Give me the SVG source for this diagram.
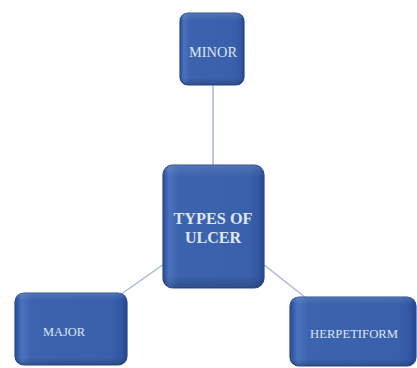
<svg xmlns="http://www.w3.org/2000/svg" width="417" height="368" viewBox="0 0 417 368">
<defs>
<linearGradient id="g" x1="0" y1="0" x2="1" y2="0">
<stop offset="0" stop-color="#2a4c96"/>
<stop offset="0.06" stop-color="#4a73bf"/>
<stop offset="0.15" stop-color="#3c63ae"/>
<stop offset="0.85" stop-color="#3a60ab"/>
<stop offset="0.95" stop-color="#3357a3"/>
<stop offset="1" stop-color="#24468e"/>
</linearGradient>
<linearGradient id="gv" x1="0" y1="0" x2="0" y2="1">
<stop offset="0" stop-color="#ffffff" stop-opacity="0.12"/>
<stop offset="0.1" stop-color="#ffffff" stop-opacity="0"/>
<stop offset="0.9" stop-color="#000000" stop-opacity="0"/>
<stop offset="1" stop-color="#000000" stop-opacity="0.2"/>
</linearGradient>
</defs>
<style>
.box{fill:url(#g);stroke:#2a4a8e;stroke-width:1.2}
.sh{fill:url(#gv)}
.t{font-family:"Liberation Serif","Times New Roman",serif;fill:#dfe6f3;text-anchor:middle}
.b{font-weight:bold}
.c{stroke:#aab8d6;stroke-width:1.5;fill:none}
</style>
<g id="connectors">
<line class="c" x1="213" y1="85" x2="213" y2="166"/>
<line class="c" x1="164" y1="264" x2="120" y2="295"/>
<line class="c" x1="263" y1="264" x2="306" y2="298"/>
</g>
<g id="minor">
<rect class="box" x="180" y="13" width="64" height="72" rx="8"/>
<rect class="sh" x="180" y="13" width="64" height="72" rx="8"/>
<text class="t" x="213" y="57" font-size="15" textLength="48" lengthAdjust="spacingAndGlyphs">MINOR</text>
</g>
<g id="center">
<rect class="box" x="163" y="165" width="101" height="123" rx="10"/>
<rect class="sh" x="163" y="165" width="101" height="123" rx="10"/>
<text class="t b" x="213" y="224" font-size="17" textLength="79" lengthAdjust="spacingAndGlyphs">TYPES OF</text>
<text class="t b" x="213" y="243" font-size="17" textLength="56" lengthAdjust="spacingAndGlyphs">ULCER</text>
</g>
<g id="major">
<rect class="box" x="15" y="293" width="112" height="72" rx="9"/>
<rect class="sh" x="15" y="293" width="112" height="72" rx="9"/>
<text class="t" x="64" y="336" font-size="12" textLength="42" lengthAdjust="spacingAndGlyphs">MAJOR</text>
</g>
<g id="herpetiform">
<rect class="box" x="290" y="297" width="126" height="69" rx="9"/>
<rect class="sh" x="290" y="297" width="126" height="69" rx="9"/>
<text class="t" x="354" y="338" font-size="12" textLength="88" lengthAdjust="spacingAndGlyphs">HERPETIFORM</text>
</g>
</svg>
